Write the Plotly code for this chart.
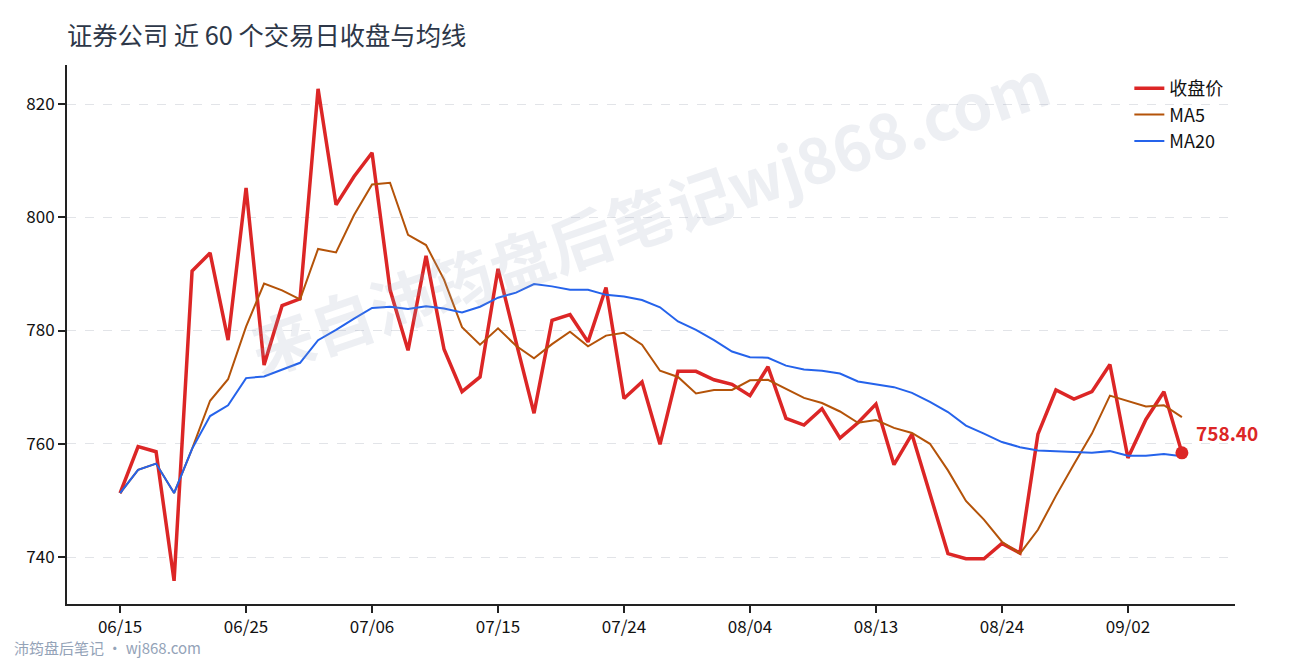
import plotly.graph_objects as go

# 交易日 (60 个)
dates = ['06/15', '06/16', '06/17', '06/18', '06/19', '06/23', '06/24', '06/25', '06/26', '06/29',
         '06/30', '07/01', '07/02', '07/03', '07/06', '07/07', '07/08', '07/09', '07/10', '07/13',
         '07/14', '07/15', '07/16', '07/17', '07/20', '07/21', '07/22', '07/23', '07/24', '07/27',
         '07/28', '07/29', '07/30', '07/31', '08/03', '08/04', '08/05', '08/06', '08/07', '08/10',
         '08/11', '08/12', '08/13', '08/14', '08/17', '08/18', '08/19', '08/20', '08/21', '08/24',
         '08/25', '08/26', '08/27', '08/28', '08/31', '09/01', '09/02', '09/07', '09/08', '09/09']

close = [751.3, 759.5, 758.6, 735.8, 790.5, 793.7, 778.3, 805.2, 773.9, 784.4,
         785.6, 822.7, 802.2, 807.2, 811.4, 787.2, 776.5, 793.2, 776.7, 769.2,
         771.8, 790.9, 778.0, 765.4, 781.8, 782.8, 778.0, 787.6, 768.0, 770.9,
         759.9, 772.8, 772.8, 771.3, 770.5, 768.5, 773.6, 764.5, 763.3, 766.2,
         761.0, 763.7, 767.0, 756.3, 761.7, 751.1, 740.6, 739.7, 739.7, 742.4,
         740.7, 761.7, 769.5, 767.9, 769.2, 774.0, 757.5, 764.3, 769.2, 758.4]

ma5 = [751.3, 755.4, 756.5, 751.3, 759.1, 767.6, 771.4, 780.7, 788.3, 787.1,
       785.5, 794.4, 793.8, 800.4, 805.8, 806.1, 796.9, 795.1, 789.0, 780.6,
       777.5, 780.4, 777.3, 775.1, 777.6, 779.8, 777.2, 779.1, 779.6, 777.5,
       772.9, 771.8, 768.9, 769.5, 769.5, 771.2, 771.3, 769.7, 768.1, 767.2,
       765.7, 763.7, 764.2, 762.8, 761.9, 760.0, 755.3, 749.9, 746.6, 742.7,
       740.6, 744.8, 750.8, 756.4, 761.8, 768.5, 767.6, 766.6, 766.8, 764.7]

ma20 = [751.3, 755.4, 756.5, 751.3, 759.1, 764.9, 766.8, 771.6, 771.9, 773.1,
        774.3, 778.3, 780.1, 782.1, 784.0, 784.2, 783.8, 784.3, 783.9, 783.2,
        784.2, 785.8, 786.7, 788.2, 787.8, 787.2, 787.2, 786.3, 786.0, 785.4,
        784.1, 781.6, 780.1, 778.3, 776.3, 775.3, 775.2, 773.8, 773.1, 772.9,
        772.4, 771.0, 770.5, 770.0, 769.0, 767.4, 765.6, 763.2, 761.8, 760.3,
        759.4, 758.8, 758.7, 758.5, 758.4, 758.7, 757.9, 757.9, 758.2, 757.8]

tick_dates = dates[::7]

FONT = 'Noto Sans CJK SC'
W, H = 1282, 652

fig = go.Figure()
fig.add_trace(go.Scatter(x=dates, y=close, mode='lines', name='收盘价',
                         line=dict(color='#dc2626', width=3.5)))
fig.add_trace(go.Scatter(x=dates, y=ma5, mode='lines', name='MA5',
                         line=dict(color='#b45309', width=2)))
fig.add_trace(go.Scatter(x=dates, y=ma20, mode='lines', name='MA20',
                         line=dict(color='#2563eb', width=2)))
# 最新收盘点
fig.add_trace(go.Scatter(x=[dates[-1]], y=[close[-1]], mode='markers', showlegend=False,
                         marker=dict(color='#dc2626', size=13)))

fig.add_annotation(x=dates[-1], y=close[-1], text='<b>%.2f</b>' % close[-1],
                   showarrow=False, xanchor='left', yanchor='middle', xshift=12, yshift=20,
                   font=dict(family=FONT, size=19, color='#dc2626'))

# 水印
fig.add_annotation(xref='paper', yref='paper', x=0.498, y=0.725,
                   xanchor='center', yanchor='middle',
                   text='<b>来自沛筠盘后笔记wj868.com</b>', showarrow=False, textangle=-19,
                   font=dict(family=FONT, size=63, color='rgba(148,163,184,0.17)'))

fig.add_annotation(xref='paper', yref='paper', x=-0.0475, y=-0.0816,
                   text='沛筠盘后笔记 · wj868.com', showarrow=False,
                   xanchor='left', yanchor='middle',
                   font=dict(family=FONT, size=15, color='#94a3b8'))

fig.update_layout(
    width=W, height=H,
    margin=dict(l=59, r=55, t=57, b=56),
    paper_bgcolor='white', plot_bgcolor='white',
    font=dict(family=FONT, size=17, color='#111111'),
    title=dict(text='证券公司 近 60 个交易日收盘与均线', x=59 / W, xanchor='left',
               xref='container', y=1 - 28 / H, yanchor='middle',
               font=dict(family=FONT, size=25.3, color='#2d3748')),
    legend=dict(x=0.9943, xanchor='right', y=0.9907, yanchor='top',
                bgcolor='rgba(0,0,0,0)', font=dict(family=FONT, size=18, color='#111111')),
    showlegend=True,
)
fig.update_xaxes(type='category', range=[-2.95, 61.95], tickvals=tick_dates, ticktext=tick_dates,
                 showgrid=False, showline=True, linecolor='#222222', linewidth=2,
                 ticks='outside', ticklen=7, tickwidth=2, tickcolor='#222222',
                 tickfont=dict(family=FONT, size=17, color='#111111'))
fig.update_yaxes(range=[731.7, 826.9], tickvals=[740, 760, 780, 800, 820],
                 showgrid=True, gridcolor='#e2e4e8', griddash='dash', gridwidth=1,
                 zeroline=False, showline=True, linecolor='#222222', linewidth=2,
                 ticks='outside', ticklen=7, tickwidth=2, tickcolor='#222222',
                 tickfont=dict(family=FONT, size=17, color='#111111'))

fig.write_html("out.html")
